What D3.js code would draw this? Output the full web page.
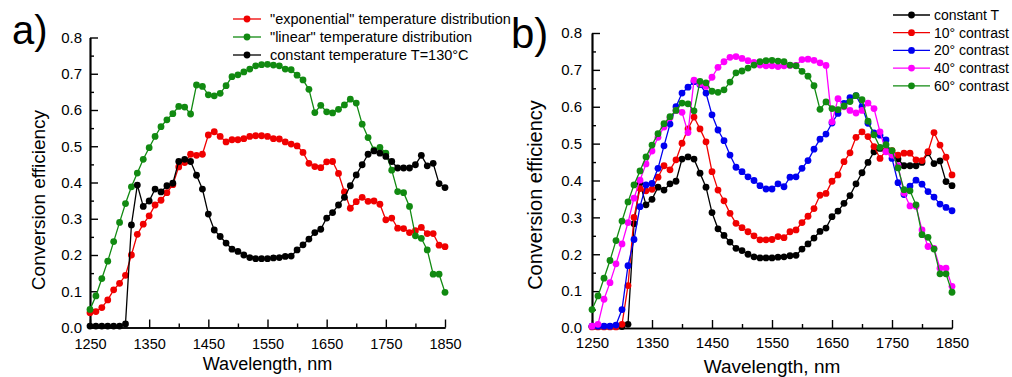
<!DOCTYPE html>
<html>
<head>
<meta charset="utf-8">
<script src="https://cdn.jsdelivr.net/npm/d3@7"></script>
<style>
  html, body { margin: 0; padding: 0; background: #fff; }
  svg { display: block; font-family: "Liberation Sans", Arial, sans-serif; }
</style>
</head>
<body>
<script>
// wavelength grid, nm
const wavelengths = [1250, 1260, 1270, 1280, 1290, 1300, 1310, 1320, 1330, 1340,
    1350, 1360, 1370, 1380, 1390, 1400, 1410, 1420, 1430, 1440,
    1450, 1460, 1470, 1480, 1490, 1500, 1510, 1520, 1530, 1540,
    1550, 1560, 1570, 1580, 1590, 1600, 1610, 1620, 1630, 1640,
    1650, 1660, 1670, 1680, 1690, 1700, 1710, 1720, 1730, 1740,
    1750, 1760, 1770, 1780, 1790, 1800, 1810, 1820, 1830, 1840, 1850];

// panel a
const expTemp = [0.041, 0.044, 0.055, 0.076, 0.104, 0.122, 0.144, 0.200, 0.257, 0.285,
    0.308, 0.338, 0.351, 0.372, 0.394, 0.443, 0.455, 0.478, 0.475, 0.478,
    0.531, 0.540, 0.527, 0.512, 0.518, 0.518, 0.521, 0.527, 0.529, 0.529,
    0.527, 0.521, 0.520, 0.512, 0.506, 0.501, 0.483, 0.453, 0.444, 0.441,
    0.457, 0.458, 0.425, 0.374, 0.329, 0.347, 0.359, 0.348, 0.349, 0.340,
    0.297, 0.302, 0.274, 0.273, 0.262, 0.267, 0.276, 0.259, 0.259, 0.227, 0.223];

const linearTemp = [0.050, 0.087, 0.135, 0.183, 0.237, 0.290, 0.342, 0.388, 0.426, 0.464,
    0.496, 0.527, 0.554, 0.573, 0.590, 0.610, 0.608, 0.589, 0.669, 0.665,
    0.642, 0.639, 0.646, 0.667, 0.692, 0.697, 0.705, 0.713, 0.722, 0.725,
    0.726, 0.724, 0.722, 0.713, 0.711, 0.696, 0.683, 0.657, 0.593, 0.613,
    0.595, 0.592, 0.602, 0.614, 0.630, 0.619, 0.561, 0.524, 0.490, 0.497,
    0.481, 0.434, 0.375, 0.372, 0.334, 0.253, 0.246, 0.214, 0.147, 0.147, 0.097];

const constTemp = [0.004, 0.004, 0.004, 0.004, 0.004, 0.004, 0.010, 0.283, 0.393, 0.334,
    0.349, 0.382, 0.374, 0.391, 0.398, 0.458, 0.464, 0.458, 0.420, 0.382,
    0.313, 0.269, 0.251, 0.233, 0.216, 0.210, 0.200, 0.193, 0.190, 0.190,
    0.190, 0.192, 0.193, 0.196, 0.197, 0.214, 0.228, 0.244, 0.262, 0.271,
    0.302, 0.317, 0.338, 0.359, 0.391, 0.421, 0.449, 0.478, 0.487, 0.481,
    0.472, 0.458, 0.440, 0.440, 0.440, 0.449, 0.475, 0.446, 0.453, 0.397, 0.386];

// panel b
const contrast10 = [0.003, 0.003, 0.003, 0.003, 0.003, 0.010, 0.115, 0.300, 0.378, 0.372,
    0.376, 0.409, 0.440, 0.429, 0.456, 0.501, 0.540, 0.572, 0.540, 0.505,
    0.424, 0.374, 0.345, 0.311, 0.284, 0.272, 0.261, 0.250, 0.239, 0.239,
    0.240, 0.248, 0.245, 0.261, 0.266, 0.286, 0.303, 0.324, 0.360, 0.365,
    0.398, 0.415, 0.451, 0.475, 0.517, 0.532, 0.519, 0.492, 0.460, 0.481,
    0.481, 0.469, 0.474, 0.474, 0.456, 0.454, 0.478, 0.530, 0.496, 0.463, 0.415];

const contrast20 = [0.005, 0.005, 0.005, 0.005, 0.008, 0.050, 0.169, 0.240, 0.329, 0.388,
    0.392, 0.433, 0.494, 0.553, 0.600, 0.637, 0.653, 0.668, 0.660, 0.637,
    0.578, 0.537, 0.508, 0.469, 0.436, 0.424, 0.410, 0.400, 0.386, 0.377,
    0.377, 0.391, 0.383, 0.409, 0.410, 0.433, 0.454, 0.485, 0.512, 0.526,
    0.556, 0.582, 0.609, 0.625, 0.630, 0.600, 0.555, 0.529, 0.523, 0.510,
    0.460, 0.394, 0.362, 0.385, 0.401, 0.390, 0.370, 0.355, 0.336, 0.327, 0.318];

const contrast40 = [0.005, 0.010, 0.078, 0.123, 0.174, 0.228, 0.286, 0.352, 0.401, 0.445,
    0.480, 0.517, 0.545, 0.570, 0.590, 0.585, 0.530, 0.672, 0.662, 0.655,
    0.680, 0.707, 0.722, 0.734, 0.736, 0.731, 0.725, 0.720, 0.713, 0.711,
    0.711, 0.709, 0.711, 0.712, 0.712, 0.728, 0.729, 0.726, 0.719, 0.712,
    0.559, 0.622, 0.600, 0.590, 0.583, 0.590, 0.610, 0.595, 0.532, 0.478,
    0.469, 0.440, 0.366, 0.331, 0.330, 0.266, 0.221, 0.216, 0.162, 0.162, 0.113];

// 60 degree contrast is the same curve as the "linear" distribution
const contrast60 = linearTemp;

const xTicks = [1250, 1350, 1450, 1550, 1650, 1750, 1850];
const xMinor = [1300, 1400, 1500, 1600, 1700, 1800];
const yTicks = [0, 0.1, 0.2, 0.3, 0.4, 0.5, 0.6, 0.7, 0.8];
const yMinor = [0.05, 0.15, 0.25, 0.35, 0.45, 0.55, 0.65, 0.75];

const legendA = ['"exponential" temperature distribution', '"linear" temperature distribution', 'constant temperature T=130°C'];
const legendB = ['constant T', '10° contrast', '20° contrast', '40° contrast', '60° contrast'];

const RED = "#f00000", GREEN = "#118a11", BLACK = "#000", BLUE = "#0000f0", MAGENTA = "#ff00ff";

const svg = d3.select("body").append("svg")
    .attr("width", 1012)
    .attr("height", 377);

function drawPanel(p) {
    const x = d3.scaleLinear().domain([1250, 1850]).range([p.left, p.right]);
    const y = d3.scaleLinear().domain([0, 0.8]).range([p.bottom, p.top]);
    const g = svg.append("g");

    // minor ticks
    g.append("g").attr("transform", `translate(0,${p.bottom})`)
        .call(d3.axisBottom(x).tickValues(xMinor).tickSize(-4).tickSizeOuter(0).tickFormat(""));
    g.append("g").attr("transform", `translate(${p.left},0)`)
        .call(d3.axisLeft(y).tickValues(yMinor).tickSize(-4).tickSizeOuter(0).tickFormat(""));

    // major ticks + labels
    const xa = g.append("g").attr("transform", `translate(0,${p.bottom})`)
        .call(d3.axisBottom(x).tickValues(xTicks).tickSize(-8).tickSizeOuter(0).tickPadding(p.xPad)
            .tickFormat(d3.format("d")));
    xa.selectAll("text").style("font-size", p.xFont + "px").attr("fill", "#000")
        .style("font-family", '"Liberation Sans", Arial, sans-serif');
    const ya = g.append("g").attr("transform", `translate(${p.left},0)`)
        .call(d3.axisLeft(y).tickValues(yTicks).tickSize(-8).tickSizeOuter(0).tickPadding(p.yPad)
            .tickFormat(d3.format(".1f")));
    ya.selectAll("text").style("font-size", p.yFont + "px").attr("fill", "#000")
        .style("font-family", '"Liberation Sans", Arial, sans-serif');

    g.selectAll(".domain").attr("stroke", "#000").attr("stroke-width", 1.7);
    g.selectAll(".tick line").attr("stroke", "#000").attr("stroke-width", 1.4);

    // curves
    const line = d3.line().x((d, i) => x(wavelengths[i])).y(d => y(d));
    p.series.forEach(s => {
        g.append("path").datum(s.values)
            .attr("fill", "none")
            .attr("stroke", s.color)
            .attr("stroke-width", 1.3)
            .attr("d", line);
        g.selectAll(null).data(s.values).enter().append("circle")
            .attr("cx", (d, i) => x(wavelengths[i]))
            .attr("cy", d => y(d))
            .attr("r", 3.4)
            .attr("fill", s.color);
    });

    // axis titles
    g.append("text")
        .attr("x", (p.left + p.right) / 2)
        .attr("y", p.xTitleY)
        .attr("text-anchor", "middle")
        .style("font-size", p.xTitleFont + "px")
        .text("Wavelength, nm");
    g.append("text")
        .attr("transform", `translate(${p.yTitleX},${p.yTitleCY}) rotate(-90)`)
        .attr("text-anchor", "middle")
        .style("font-size", p.yTitleFont + "px")
        .text("Conversion efficiency");

    // panel letter
    g.append("text")
        .attr("x", p.letterX)
        .attr("y", p.letterY)
        .style("font-size", p.letterFont + "px")
        .text(p.letter);

    // legend
    p.legend.forEach((row, i) => {
        const cy = p.legTop + i * p.legStep;
        g.append("line")
            .attr("x1", p.legX1).attr("x2", p.legX2)
            .attr("y1", cy).attr("y2", cy)
            .attr("stroke", row.color).attr("stroke-width", 1.3);
        g.append("circle")
            .attr("cx", (p.legX1 + p.legX2) / 2).attr("cy", cy)
            .attr("r", 3.4).attr("fill", row.color);
        g.append("text")
            .attr("x", p.legTextX).attr("y", cy)
            .attr("dy", "0.35em")
            .style("font-size", p.legFont + "px")
            .text(row.label);
    });
}

drawPanel({
    left: 90, right: 445, top: 37.5, bottom: 327.5,
    xFont: 14.5, yFont: 15, xPad: 11.5, yPad: 8,
    xTitleY: 370, xTitleFont: 18,
    yTitleX: 45, yTitleCY: 200, yTitleFont: 19,
    letter: "a)", letterX: 12, letterY: 44, letterFont: 40,
    legX1: 233, legX2: 261, legTextX: 270, legTop: 19, legStep: 18, legFont: 14.5,
    series: [
        {values: expTemp, color: RED},
        {values: linearTemp, color: GREEN},
        {values: constTemp, color: BLACK}
    ],
    legend: [
        {label: legendA[0], color: RED},
        {label: legendA[1], color: GREEN},
        {label: legendA[2], color: BLACK}
    ]
});

drawPanel({
    left: 592, right: 952, top: 33, bottom: 328,
    xFont: 15, yFont: 15, xPad: 9.5, yPad: 10,
    xTitleY: 373, xTitleFont: 19,
    yTitleX: 542, yTitleCY: 195, yTitleFont: 20,
    letter: "b)", letterX: 511, letterY: 48, letterFont: 42,
    legX1: 893, legX2: 930, legTextX: 934, legTop: 15, legStep: 17.7, legFont: 14,
    series: [
        {values: constTemp, color: BLACK},
        {values: contrast10, color: RED},
        {values: contrast20, color: BLUE},
        {values: contrast40, color: MAGENTA},
        {values: contrast60, color: GREEN}
    ],
    legend: [
        {label: legendB[0], color: BLACK},
        {label: legendB[1], color: RED},
        {label: legendB[2], color: BLUE},
        {label: legendB[3], color: MAGENTA},
        {label: legendB[4], color: GREEN}
    ]
});
</script>
</body>
</html>
